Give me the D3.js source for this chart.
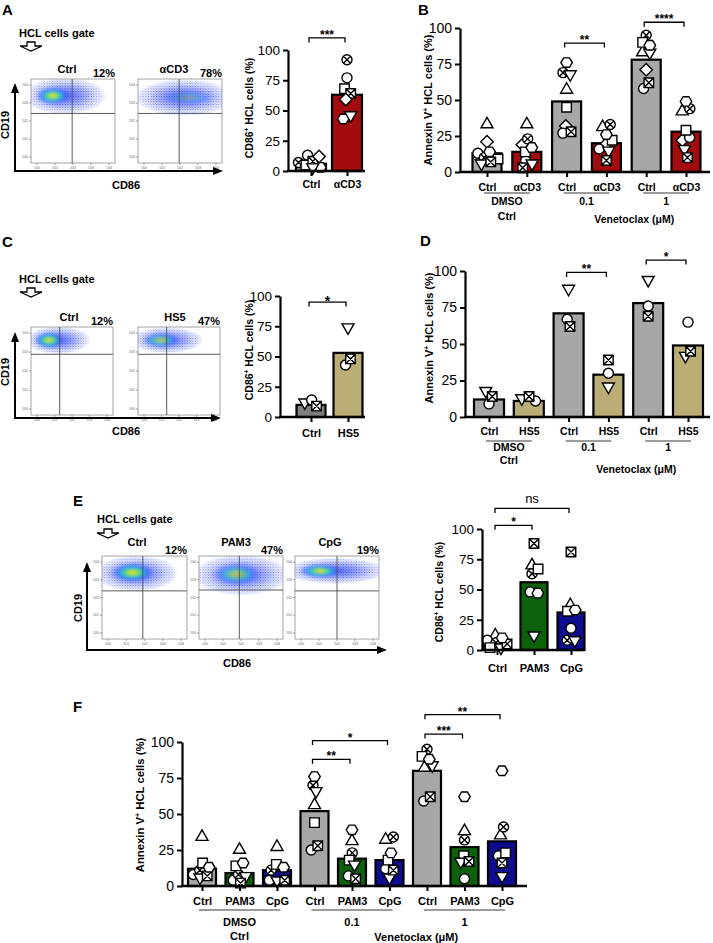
<!DOCTYPE html>
<html><head><meta charset="utf-8">
<script src="https://cdn.jsdelivr.net/npm/d3@7"></script>
<style>body{margin:0;background:#fff} svg{display:block}</style>
</head><body><svg id="fig" width="713" height="943"></svg>
<script>
// ================= DATA =================
const yTickValues = [0, 25, 50, 75, 100];

// Panel A
const flowLabelsA = ["Ctrl", "αCD3"];
const flowPctA = ["12%", "78%"];
const categoriesA = ["Ctrl", "αCD3"];
const meansA = [6, 63];
const shapesA = ["circle", "crossCircle", "square", "crossSquare", "diamond", "hexagon", "triangleDown"];
const pointsA_Ctrl = [13, 7, 5, 8, 12, 3, 2];
const pointsA_aCD3 = [77, 92, 68, 64, 59, 43, 45];
const signifA = [[0, 1, "***", 110]];

// Panel B
const categoriesB = ["Ctrl", "αCD3", "Ctrl", "αCD3", "Ctrl", "αCD3"];
const groupsB = ["DMSO", "0.1", "1"];
const meansB = [13, 14, 49, 20, 78, 28];
const shapesB = ["triangleUp", "diamond", "circle", "crossCircle", "square", "triangleDown", "crossSquare", "hexagon"];
const pointsB_DMSO_Ctrl = [34, 21, 13, 10, 9, 5, 7, 14];
const pointsB_DMSO_aCD3 = [34, 19, 8, 23, 14, 5, 3, 17];
const pointsB_01_Ctrl = [58, 32, 27, 69, 45, 67, 28, 76];
const pointsB_01_aCD3 = [32, 19, 16, 33, 22, 14, 8, 26];
const pointsB_1_Ctrl = [84, 71, 58, 95, 90, 82, 62, 88];
const pointsB_1_aCD3 = [43, 22, 24, 44, 29, 15, 10, 49];
const signifB = [[2, 3, "**", 89.5], [4, 5, "****", 104]];

// Panel C
const flowLabelsC = ["Ctrl", "HS5"];
const flowPctC = ["12%", "47%"];
const categoriesC = ["Ctrl", "HS5"];
const meansC = [10, 53];
const shapesC = ["triangleDown", "circle", "crossSquare"];
const pointsC_Ctrl = [11, 14, 9];
const pointsC_HS5 = [73, 43, 48];
const signifC = [[0, 1, "*", 95]];

// Panel D
const categoriesD = ["Ctrl", "HS5", "Ctrl", "HS5", "Ctrl", "HS5"];
const groupsD = ["DMSO", "0.1", "1"];
const meansD = [12, 11, 71, 29, 78, 49];
const shapesD = ["triangleDown", "circle", "crossSquare"];
const pointsD_DMSO_Ctrl = [17, 9, 14];
const pointsD_DMSO_HS5 = [12, 11, 14];
const pointsD_01_Ctrl = [87, 67, 62];
const pointsD_01_HS5 = [20, 30, 39];
const pointsD_1_Ctrl = [93, 76, 69];
const pointsD_1_HS5 = [41, 65, 45];
const signifD = [[2, 3, "**", 99], [4, 5, "*", 107.5]];

// Panel E
const flowLabelsE = ["Ctrl", "PAM3", "CpG"];
const flowPctE = ["12%", "47%", "19%"];
const categoriesE = ["Ctrl", "PAM3", "CpG"];
const meansE = [6, 56, 31];
const shapesE = ["triangleUp", "circle", "crossCircle", "square", "triangleDown", "crossSquare", "hexagon"];
const pointsE_Ctrl = [13, 8, 6, 2, 1, 5, 10];
const pointsE_PAM3 = [71, 48, 63, 67, 11, 88, 47];
const pointsE_CpG = [38, 18, 8, 32, 7, 81, 33];
const signifE = [[0, 1, "*", 103], [0, 2, "ns", 117]];

// Panel F
const categoriesF = ["Ctrl", "PAM3", "CpG", "Ctrl", "PAM3", "CpG", "Ctrl", "PAM3", "CpG"];
const groupsF = ["DMSO", "0.1", "1"];
const meansF = [12, 9, 11, 52, 19, 18, 80, 27, 31];
const shapesF = ["triangleUp", "circle", "crossCircle", "square", "triangleDown", "crossSquare", "hexagon"];
const pointsF_DMSO_Ctrl = [35, 8, 11, 16, 5, 7, 13];
const pointsF_DMSO_PAM3 = [26, 4, 8, 14, 6, 2, 16];
const pointsF_DMSO_CpG = [28, 4, 11, 15, 3, 4, 13];
const pointsF_01_Ctrl = [57, 25, 70, 44, 65, 28, 76];
const pointsF_01_PAM3 = [32, 7, 23, 18, 14, 5, 39];
const pointsF_01_CpG = [33, 12, 34, 18, 5, 11, 23];
const pointsF_1_Ctrl = [83, 59, 95, 90, 83, 62, 88];
const pointsF_1_PAM3 = [39, 5, 32, 21, 16, 17, 62];
const pointsF_1_CpG = [36, 21, 41, 23, 6, 16, 80];
const signifF = [[3, 4, "**", 88], [3, 5, "*", 101], [6, 7, "***", 105.5], [6, 8, "**", 119]];

// ================= STYLE =================
const FONT = '"Liberation Sans", Arial, Helvetica, sans-serif';
const GRAY = "#a7a7a7", GRAY2 = "#8a8a8a", RED = "#a30c0c", TAN = "#bbad76", GREEN = "#0b620b", NAVY = "#0c0c8e";

const svg = d3.select("#fig");
svg.append("rect").attr("width", 713).attr("height", 943).attr("fill", "#fff");
const defs = svg.append("defs");

// ---------- helpers ----------
function txt(x, y, s, o = {}) {
  return svg.append("text").attr("x", x).attr("y", y).text(s)
    .attr("font-family", FONT).attr("font-size", o.fs || 11)
    .attr("font-weight", o.w || "bold").attr("text-anchor", o.a || "start")
    .attr("fill", "#000");
}
function rotLabel(x, y, parts, fs) {
  const t = svg.append("text").attr("transform", `translate(${x},${y}) rotate(-90)`)
    .attr("font-family", FONT).attr("font-size", fs).attr("font-weight", "bold").attr("text-anchor", "middle");
  parts.forEach(p => {
    const ts = t.append("tspan").text(p.t);
    if (p.sup) ts.attr("font-size", fs * 0.62).attr("dy", -fs * 0.38);
    else if (p.after) ts.attr("dy", fs * 0.38);
  });
  return t;
}
function shapePath(type, r) {
  const circ = `M${r},0A${r},${r} 0 1,1 ${-r},0A${r},${r} 0 1,1 ${r},0Z`;
  const a = r * 0.7, s = r * 0.95;
  const sq = `M${-s},${-s}H${s}V${s}H${-s}Z`;
  switch (type) {
    case "circle": return circ;
    case "crossCircle": return circ + `M${-a},${-a}L${a},${a}M${-a},${a}L${a},${-a}`;
    case "square": return sq;
    case "crossSquare": return sq + `M${-s},${-s}L${s},${s}M${-s},${s}L${s},${-s}`;
    case "diamond": { const d = r * 1.25; return `M0,${-d}L${d},0L0,${d}L${-d},0Z`; }
    case "triangleUp": return `M0,${-r * 1.15}L${r * 1.2},${r * 0.95}L${-r * 1.2},${r * 0.95}Z`;
    case "triangleDown": return `M0,${r * 1.15}L${r * 1.2},${-r * 0.95}L${-r * 1.2},${-r * 0.95}Z`;
    case "hexagon": {
      const R = r * 1.15;
      return d3.range(6).map(k => { const an = k * Math.PI / 3; return (k ? "L" : "M") + (R * Math.cos(an)).toFixed(2) + "," + (R * Math.sin(an) * 0.95).toFixed(2); }).join("") + "Z";
    }
  }
}
function swarm(vals, cx, y, r, bw, shapes) {
  const nodes = vals.map((v, k) => ({ x: cx + (k - (vals.length - 1) / 2) * 0.6, y: y(v), fy: y(v), shape: shapes[k] }));
  const sim = d3.forceSimulation(nodes)
    .force("x", d3.forceX(cx).strength(0.25))
    .force("c", d3.forceCollide(r * 0.78).iterations(2)).stop();
  for (let t = 0; t < 250; t++) sim.tick();
  nodes.forEach(n => { n.x = Math.max(cx - bw / 2 + 2, Math.min(cx + bw / 2 - 2, n.x)); });
  return nodes;
}

function drawBarPanel(c) {
  const g = svg.append("g");
  const y = d3.scaleLinear().domain([0, 100]).range([c.y0, c.y100]);
  const n = c.cats.length;
  const x = d3.scalePoint().domain(d3.range(n)).range([c.first, c.first + c.step * (n - 1)]);
  // bars
  g.selectAll("rect.bar").data(c.means).join("rect").attr("class", "bar")
    .attr("x", (d, i) => x(i) - c.bw / 2).attr("y", d => y(d))
    .attr("width", c.bw).attr("height", d => c.y0 - y(d))
    .attr("fill", (d, i) => c.colors[i]).attr("stroke", "#000").attr("stroke-width", 2.2);
  // points
  c.points.forEach((vals, i) => {
    const nodes = swarm(vals, x(i), y, c.r, c.bw, c.shapes);
    g.append("g").selectAll("path").data(nodes).join("path")
      .attr("d", d => shapePath(d.shape, c.r))
      .attr("transform", d => `translate(${d.x.toFixed(2)},${d.fy.toFixed(2)})`)
      .attr("fill", "#fff").attr("stroke", "#000").attr("stroke-width", 1.4);
  });
  // y axis
  const ya = g.append("g").attr("transform", `translate(${c.ax},0)`)
    .call(d3.axisLeft(y).tickValues(yTickValues).tickSize(5).tickSizeOuter(0).tickPadding(3));
  ya.select(".domain").attr("stroke", "#000").attr("stroke-width", 2.2);
  ya.selectAll(".tick line").attr("stroke", "#000").attr("stroke-width", 2);
  ya.selectAll(".tick text").attr("font-family", FONT).attr("font-size", c.tickFs).attr("fill", "#000");
  // x axis
  g.append("line").attr("x1", c.ax - 1).attr("x2", c.xEnd).attr("y1", c.y0).attr("y2", c.y0)
    .attr("stroke", "#000").attr("stroke-width", 2.4);
  const xa = g.append("g").attr("transform", `translate(0,${c.y0})`)
    .call(d3.axisBottom(x).tickSize(5).tickFormat(i => c.cats[i]));
  xa.select(".domain").remove();
  xa.selectAll(".tick line").attr("stroke", "#000").attr("stroke-width", 2);
  xa.selectAll(".tick text").attr("y", c.labDy).attr("dy", 0).attr("font-family", FONT)
    .attr("font-size", c.labFs).attr("font-weight", "bold").attr("fill", "#000");
  // significance brackets
  c.signif.forEach(([i, j, lab, lev]) => {
    const yy = y(lev), x1 = x(i) - 2, x2 = x(j) - 2;
    g.append("path").attr("d", `M${x1},${yy + 4.5}V${yy}H${x2}V${yy + 4.5}`)
      .attr("fill", "none").attr("stroke", "#000").attr("stroke-width", 1.3);
    g.append("text").attr("x", (x1 + x2) / 2).attr("y", lab === "ns" ? yy - 5 : yy + (c.starDy || 1))
      .attr("text-anchor", "middle").attr("font-family", FONT)
      .attr("font-size", lab === "ns" ? 13 : c.starFs || 12).attr("font-weight", lab === "ns" ? "normal" : "bold")
      .text(lab);
  });
  // groups
  if (c.groups) {
    const per = n / c.groups.length;
    c.groups.forEach((gl, k) => {
      const a = x(k * per), b = x(k * per + per - 1);
      g.append("line").attr("x1", a - 3).attr("x2", b + 3).attr("y1", c.y0 + c.lineDy).attr("y2", c.y0 + c.lineDy)
        .attr("stroke", "#222").attr("stroke-width", 0.9);
      txt((a + b) / 2, c.y0 + c.groupDy, gl, { fs: c.labFs, a: "middle" });
      if (k === 0) txt((a + b) / 2, c.y0 + c.subDy, "Ctrl", { fs: c.labFs, a: "middle" });
    });
    const a = x(per), b = x(n - 1);
    txt((a + b) / 2 + 8, c.y0 + c.ventDy, "Venetoclax (μM)", { fs: c.labFs, a: "middle" });
  }
  return { x, y };
}

// ---------- flow cytometry plots ----------
const coreGrad = defs.append("radialGradient").attr("id", "coreGrad");
[[0, "#ffe81a", 1], [0.22, "#9ee02c", 1], [0.48, "#22c8c8", 0.95], [0.75, "#2c6cff", 0.6], [1, "#2c4cff", 0]]
  .forEach(([o, col, op]) => coreGrad.append("stop").attr("offset", o).attr("stop-color", col).attr("stop-opacity", op));
const midGrad = defs.append("radialGradient").attr("id", "midGrad");
[[0, "#1d2fe0", 0.7], [0.55, "#2f45ff", 0.4], [1, "#3d55ff", 0]]
  .forEach(([o, col, op]) => midGrad.append("stop").attr("offset", o).attr("stop-color", col).attr("stop-opacity", op));
const fadeGrad = defs.append("radialGradient").attr("id", "fadeGrad");
[[0, "#fff"], [0.6, "#eee"], [0.85, "#888"], [1, "#000"]].forEach(([o, col]) => fadeGrad.append("stop").attr("offset", o).attr("stop-color", col));
const speck = defs.append("pattern").attr("id", "speck").attr("patternUnits", "userSpaceOnUse").attr("width", 2.6).attr("height", 2.6);
speck.append("circle").attr("cx", 0.6).attr("cy", 0.7).attr("r", 0.62).attr("fill", "#1c2cf0");
speck.append("circle").attr("cx", 1.9).attr("cy", 1.9).attr("r", 0.55).attr("fill", "#4a5cff");
speck.append("circle").attr("cx", 2.0).attr("cy", 0.4).attr("r", 0.35).attr("fill", "#3a8cff");
const blur = defs.append("filter").attr("id", "blur").attr("x", "-50%").attr("y", "-50%").attr("width", "200%").attr("height", "200%");
blur.append("feGaussianBlur").attr("stdDeviation", 1.6);
let flowId = 0;

function drawFlow(b, cl, label, pct) {
  const id = flowId++;
  const g = svg.append("g");
  defs.append("clipPath").attr("id", "fc" + id).append("rect").attr("x", b.x).attr("y", b.y).attr("width", b.w).attr("height", b.h);
  g.append("rect").attr("x", b.x).attr("y", b.y).attr("width", b.w).attr("height", b.h).attr("fill", "#fff");
  const cg = g.append("g").attr("clip-path", `url(#fc${id})`);
  const ox = b.x + cl.ox * b.w, oy = b.y + cl.oy * b.h, orx = cl.orx * b.w, ory = cl.ory * b.h;
  const m = defs.append("mask").attr("id", "fm" + id);
  m.append("ellipse").attr("cx", ox).attr("cy", oy).attr("rx", orx).attr("ry", ory).attr("fill", "url(#fadeGrad)");
  cg.append("rect").attr("x", ox - orx).attr("y", oy - ory).attr("width", 2 * orx).attr("height", 2 * ory)
    .attr("fill", "url(#speck)").attr("mask", `url(#fm${id})`);
  cg.append("ellipse").attr("cx", ox).attr("cy", oy).attr("rx", orx * 0.7).attr("ry", ory * 0.7)
    .attr("fill", "url(#midGrad)").attr("filter", "url(#blur)");
  cg.append("ellipse").attr("cx", b.x + cl.kx * b.w).attr("cy", b.y + cl.ky * b.h)
    .attr("rx", cl.krx * b.w).attr("ry", cl.kry * b.h).attr("fill", "url(#coreGrad)")
    .attr("opacity", cl.k).attr("filter", "url(#blur)");
  g.append("rect").attr("x", b.x).attr("y", b.y).attr("width", b.w).attr("height", b.h)
    .attr("fill", "none").attr("stroke", "#a3a3a3").attr("stroke-width", 1);
  const gx = b.x + b.gx * b.w, gy = b.y + b.gy * b.h;
  g.append("line").attr("x1", gx).attr("x2", gx).attr("y1", b.y).attr("y2", b.y + b.h).attr("stroke", "#4a4a4a").attr("stroke-width", 0.9);
  g.append("line").attr("x1", b.x).attr("x2", b.x + b.w).attr("y1", gy).attr("y2", gy).attr("stroke", "#4a4a4a").attr("stroke-width", 0.9);
  // tiny axis ticks
  const decs = ["0", "1", "2", "3", "4"];
  decs.forEach((d, k) => {
    const ty = b.y + b.h - 6 - k * (b.h - 12) / 4;
    g.append("line").attr("x1", b.x - 2).attr("x2", b.x).attr("y1", ty).attr("y2", ty).attr("stroke", "#666").attr("stroke-width", 0.6);
    g.append("text").attr("x", b.x - 3).attr("y", ty + 1).attr("text-anchor", "end").attr("font-family", FONT)
      .attr("font-size", 3.6).attr("fill", "#666").text("10" + d);
    const tx = b.x + 6 + k * (b.w - 12) / 4;
    g.append("line").attr("x1", tx).attr("x2", tx).attr("y1", b.y + b.h).attr("y2", b.y + b.h + 2).attr("stroke", "#666").attr("stroke-width", 0.6);
    g.append("text").attr("x", tx).attr("y", b.y + b.h + 6).attr("text-anchor", "middle").attr("font-family", FONT)
      .attr("font-size", 3.6).attr("fill", "#666").text("10" + d);
  });
  txt(b.lx, b.y - 6 - b.labUp, label, { fs: 11, a: "middle" });
  txt(b.x + b.w, b.y - 2, pct, { fs: 11, a: "end" });
}
function gateArrow(x0, y0) {
  svg.append("path").attr("d", `M${x0 + 7},${y0}H${x0 + 15}V${y0 + 4}H${x0 + 22}L${x0 + 11},${y0 + 9}L${x0},${y0 + 4}H${x0 + 7}Z`)
    .attr("fill", "#fff").attr("stroke", "#000").attr("stroke-width", 1.3).attr("stroke-linejoin", "miter");
}
function flowAxes(x0, y0, yTop, xRight) {
  svg.append("path").attr("d", `M${x0},${y0}V${yTop + 8}M${x0 - 1},${y0}H${xRight - 9}`).attr("stroke", "#000").attr("stroke-width", 2).attr("fill", "none");
  svg.append("path").attr("d", `M${x0},${yTop}L${x0 - 4},${yTop + 10}L${x0 + 4},${yTop + 10}Z`).attr("fill", "#000");
  svg.append("path").attr("d", `M${xRight},${y0}L${xRight - 10},${y0 - 4}L${xRight - 10},${y0 + 4}Z`).attr("fill", "#000");
}

// ================= PANEL A =================
txt(2, 15, "A", { fs: 15 });
txt(19, 37, "HCL cells gate", { fs: 11 });
gateArrow(20, 42);
const flowCloudsA = [
  { ox: 0.4, oy: 0.2, orx: 0.5, ory: 0.22, kx: 0.26, ky: 0.2, krx: 0.2, kry: 0.1, k: 1 },
  { ox: 0.55, oy: 0.22, orx: 0.6, ory: 0.22, kx: 0.6, ky: 0.22, krx: 0.3, kry: 0.08, k: 0.35 }];
[{ x: 31, y: 79, w: 84, h: 84, gx: 0.49, gy: 0.41, lx: 67, labUp: 0 }, { x: 138, y: 79, w: 84, h: 84, gx: 0.49, gy: 0.41, lx: 174, labUp: 0 }]
  .forEach((b, i) => drawFlow(b, flowCloudsA[i], flowLabelsA[i], flowPctA[i]));
flowAxes(15, 171, 83, 223);
svg.append("text").attr("transform", "translate(9,125) rotate(-90)").attr("text-anchor", "middle")
  .attr("font-family", FONT).attr("font-size", 11).attr("font-weight", "bold").text("CD19");
txt(126, 189, "CD86", { fs: 11, a: "middle" });
rotLabel(253, 108, [{ t: "CD86" }, { t: "+", sup: true }, { t: " HCL cells (%)", after: true }], 10.5);
drawBarPanel({
  ax: 288, y0: 171, y100: 50, xEnd: 365, first: 311, step: 36, bw: 30, r: 5,
  cats: categoriesA, means: meansA, colors: [GRAY2, RED], shapes: shapesA,
  points: [pointsA_Ctrl, pointsA_aCD3], signif: signifA,
  tickFs: 13.5, labFs: 10.5, labDy: 17
});

// ================= PANEL B =================
txt(418, 15, "B", { fs: 15 });
rotLabel(432, 100, [{ t: "Annexin V" }, { t: "+", sup: true }, { t: " HCL cells (%)", after: true }], 11);
drawBarPanel({
  ax: 460, y0: 172, y100: 28, xEnd: 710, first: 487, step: 39.8, bw: 29, r: 5,
  cats: categoriesB, means: meansB, colors: [GRAY, RED, GRAY, RED, GRAY, RED], shapes: shapesB,
  points: [pointsB_DMSO_Ctrl, pointsB_DMSO_aCD3, pointsB_01_Ctrl, pointsB_01_aCD3, pointsB_1_Ctrl, pointsB_1_aCD3],
  signif: signifB, groups: groupsB,
  tickFs: 14, labFs: 10.5, labDy: 19, lineDy: 21, groupDy: 33, subDy: 48, ventDy: 51
});

// ================= PANEL C =================
txt(2, 247, "C", { fs: 15 });
txt(19, 283, "HCL cells gate", { fs: 11 });
gateArrow(20, 288);
const flowCloudsC = [
  { ox: 0.33, oy: 0.15, orx: 0.4, ory: 0.16, kx: 0.22, ky: 0.15, krx: 0.18, kry: 0.09, k: 1 },
  { ox: 0.35, oy: 0.15, orx: 0.45, ory: 0.15, kx: 0.28, ky: 0.15, krx: 0.22, kry: 0.08, k: 0.75 }];
[{ x: 31, y: 327, w: 82, h: 88, gx: 0.35, gy: 0.31, lx: 69, labUp: 0 }, { x: 138, y: 327, w: 82, h: 88, gx: 0.35, gy: 0.31, lx: 175, labUp: 0 }]
  .forEach((b, i) => drawFlow(b, flowCloudsC[i], flowLabelsC[i], flowPctC[i]));
flowAxes(15, 418, 332, 221);
svg.append("text").attr("transform", "translate(9,372) rotate(-90)").attr("text-anchor", "middle")
  .attr("font-family", FONT).attr("font-size", 11).attr("font-weight", "bold").text("CD19");
txt(126, 435, "CD86", { fs: 11, a: "middle" });
rotLabel(253, 350, [{ t: "CD86" }, { t: "+", sup: true }, { t: " HCL cells (%)", after: true }], 10.5);
drawBarPanel({
  ax: 280, y0: 417, y100: 296, xEnd: 365, first: 311, step: 37, bw: 29, r: 5,
  cats: categoriesC, means: meansC, colors: ["#7f7f7f", TAN], shapes: shapesC,
  points: [pointsC_Ctrl, pointsC_HS5], signif: signifC, starFs: 14, starDy: 4,
  tickFs: 13.5, labFs: 11, labDy: 20
});

// ================= PANEL D =================
txt(420, 246, "D", { fs: 15 });
rotLabel(433, 338, [{ t: "Annexin V" }, { t: "+", sup: true }, { t: " HCL cells (%)", after: true }], 11);
drawBarPanel({
  ax: 465, y0: 417, y100: 271, xEnd: 710, first: 489, step: 39.8, bw: 30, r: 5,
  cats: categoriesD, means: meansD, colors: [GRAY, TAN, GRAY, TAN, GRAY, TAN], shapes: shapesD,
  points: [pointsD_DMSO_Ctrl, pointsD_DMSO_HS5, pointsD_01_Ctrl, pointsD_01_HS5, pointsD_1_Ctrl, pointsD_1_HS5],
  signif: signifD, groups: groupsD,
  tickFs: 14, labFs: 10.5, labDy: 18, lineDy: 24, groupDy: 34, subDy: 47, ventDy: 56
});

// ================= PANEL E =================
txt(73, 506, "E", { fs: 15 });
txt(97, 523, "HCL cells gate", { fs: 11 });
gateArrow(97, 529);
const flowCloudsE = [
  { ox: 0.4, oy: 0.21, orx: 0.5, ory: 0.22, kx: 0.36, ky: 0.2, krx: 0.25, kry: 0.11, k: 1 },
  { ox: 0.5, oy: 0.23, orx: 0.58, ory: 0.25, kx: 0.45, ky: 0.22, krx: 0.28, kry: 0.13, k: 0.7 },
  { ox: 0.48, oy: 0.18, orx: 0.62, ory: 0.16, kx: 0.3, ky: 0.18, krx: 0.25, kry: 0.08, k: 1 }];
[{ x: 102, y: 556, w: 85, h: 83, gx: 0.48, gy: 0.42, lx: 137, labUp: 4 },
 { x: 199, y: 556, w: 84, h: 83, gx: 0.48, gy: 0.41, lx: 236, labUp: 4 },
 { x: 295, y: 556, w: 84, h: 83, gx: 0.5, gy: 0.42, lx: 330, labUp: 4 }]
  .forEach((b, i) => drawFlow(b, flowCloudsE[i], flowLabelsE[i], flowPctE[i]));
flowAxes(87, 650, 562, 387);
svg.append("text").attr("transform", "translate(82,608) rotate(-90)").attr("text-anchor", "middle")
  .attr("font-family", FONT).attr("font-size", 11).attr("font-weight", "bold").text("CD19");
txt(237, 667, "CD86", { fs: 11, a: "middle" });
rotLabel(443, 592, [{ t: "CD86" }, { t: "+", sup: true }, { t: " HCL cells (%)", after: true }], 10.5);
drawBarPanel({
  ax: 482, y0: 650, y100: 529, xEnd: 583, first: 497, step: 37, bw: 27, r: 5,
  cats: categoriesE, means: meansE, colors: [GRAY2, GREEN, NAVY], shapes: shapesE,
  points: [pointsE_Ctrl, pointsE_PAM3, pointsE_CpG], signif: signifE,
  tickFs: 13.5, labFs: 11, labDy: 22
});

// ================= PANEL F =================
txt(73, 712, "F", { fs: 15 });
rotLabel(144, 805, [{ t: "Annexin V" }, { t: "+", sup: true }, { t: " HCL cells (%)", after: true }], 11.3);
drawBarPanel({
  ax: 182, y0: 886, y100: 742, xEnd: 527, first: 202, step: 37.5, bw: 28, r: 5,
  cats: categoriesF, means: meansF, colors: [GRAY, GREEN, NAVY, GRAY, GREEN, NAVY, GRAY, GREEN, NAVY], shapes: shapesF,
  points: [pointsF_DMSO_Ctrl, pointsF_DMSO_PAM3, pointsF_DMSO_CpG, pointsF_01_Ctrl, pointsF_01_PAM3, pointsF_01_CpG,
           pointsF_1_Ctrl, pointsF_1_PAM3, pointsF_1_CpG],
  signif: signifF, groups: groupsF,
  tickFs: 14, labFs: 11, labDy: 19, lineDy: 24, groupDy: 40, subDy: 54, ventDy: 55
});
</script></body></html>
